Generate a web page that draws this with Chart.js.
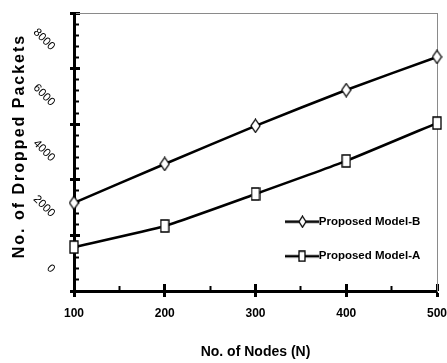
<!DOCTYPE html>
<html>
<head>
<meta charset="utf-8">
<script src="https://cdn.jsdelivr.net/npm/chart.js@4.4.0/dist/chart.umd.min.js"></script>
<style>
  html, body { margin: 0; padding: 0; background: #fff; }
</style>
</head>
<body>
<canvas id="chart" width="447" height="363"></canvas>
<script>
// Values
const nodes = [100, 200, 300, 400, 500];
const modelB = [3170, 4570, 5940, 7230, 8420];
const modelA = [1580, 2340, 3490, 4680, 6040];
const yTickLabels = ['0', '2000', '4000', '6000', '8000'];
const seriesNames = ['Proposed Model-B', 'Proposed Model-A'];

const SANS = "'Liberation Sans', Arial, sans-serif";

// Marker images (tall diamond / tall square, white fill)
function makeMarker(shape, w, h) {
    const c = document.createElement('canvas');
    c.width = w; c.height = h;
    const g = c.getContext('2d');
    g.fillStyle = '#fff';
    g.strokeStyle = '#000';
    g.lineWidth = 1.3;
    g.beginPath();
    if (shape === 'diamond') {
        g.moveTo(w / 2, 1); g.lineTo(w - 1, h / 2); g.lineTo(w / 2, h - 1); g.lineTo(1, h / 2);
        g.closePath();
    } else {
        g.rect(1, 1, w - 2, h - 2);
    }
    g.fill();
    g.stroke();
    return c;
}

// Legend symbol: line with the marker in the middle
function makeLegendIcon(marker, w) {
    const c = document.createElement('canvas');
    c.width = w; c.height = marker.height;
    const g = c.getContext('2d');
    g.strokeStyle = '#000';
    g.lineWidth = 2.5;
    g.beginPath();
    g.moveTo(0, c.height / 2);
    g.lineTo(w, c.height / 2);
    g.stroke();
    g.drawImage(marker, Math.round((w - marker.width) / 2), 0);
    return c;
}

const diamond = makeMarker('diamond', 11, 15);
const square = makeMarker('square', 10, 14);
const legendIcons = [
    makeLegendIcon(makeMarker('diamond', 9, 13), 34),
    makeLegendIcon(makeMarker('square', 8, 12), 34)
];

// keep the plot area fixed: no extra label padding from any axis
function noPad(s) {
    s.paddingTop = 0;
    s.paddingBottom = 0;
    s.paddingLeft = 0;
    s.paddingRight = 0;
}

// place the legend inside the plot, lower right
const legendPlacer = {
    id: 'legendPlacer',
    afterLayout(chart) {
        const lg = chart.legend;
        const w = lg.width;
        lg.left = 268;
        lg.top = 193;
        lg.right = lg.left + w;
        lg.bottom = lg.top + 130;
    }
};

const hiddenTicks = { display: false };

new Chart(document.getElementById('chart'), {
    type: 'line',
    data: {
        datasets: [
            {
                label: seriesNames[0],
                data: nodes.map((n, i) => ({ x: n, y: modelB[i] })),
                borderColor: '#000',
                borderWidth: 2.6,
                pointStyle: diamond,
                pointRadius: 6,
                tension: 0.15,
                clip: false,
                xAxisID: 'x',
                yAxisID: 'y'
            },
            {
                label: seriesNames[1],
                data: nodes.map((n, i) => ({ x: n, y: modelA[i] })),
                borderColor: '#000',
                borderWidth: 2.6,
                pointStyle: square,
                pointRadius: 6,
                tension: 0.15,
                clip: false,
                xAxisID: 'x',
                yAxisID: 'y'
            }
        ]
    },
    options: {
        responsive: false,
        animation: false,
        devicePixelRatio: 1,
        layout: { padding: { left: 0, top: 13, right: 10, bottom: 0 } },
        plugins: {
            tooltip: { enabled: false },
            legend: {
                position: 'chartArea',
                align: 'start',
                labels: {
                    usePointStyle: true,
                    pointStyleWidth: 22,
                    padding: 23,
                    color: '#000',
                    font: { family: SANS, size: 11.5, weight: 'bold' },
                    generateLabels: chart => chart.data.datasets.map((ds, i) => ({
                        text: ds.label,
                        pointStyle: legendIcons[i],
                        fillStyle: '#fff',
                        strokeStyle: '#000',
                        lineWidth: 0,
                        hidden: false,
                        datasetIndex: i
                    }))
                }
            }
        },
        scales: {
            x: {
                type: 'linear',
                position: 'bottom',
                min: 100,
                max: 500,
                ticks: {
                    stepSize: 100,
                    padding: 9,
                    maxRotation: 0,
                    color: '#000',
                    font: { family: SANS, size: 12, weight: 'bold' }
                },
                grid: { drawOnChartArea: false, tickLength: 6, tickWidth: 3, tickColor: '#000' },
                border: { color: '#000', width: 3 },
                title: {
                    display: true,
                    text: 'No. of Nodes (N)',
                    color: '#000',
                    font: { family: SANS, size: 14, weight: 'bold' },
                    padding: { top: 0, bottom: 2 }
                },
                afterFit: s => { s.height = 72; noPad(s); }
            },
            xMajorIn: {
                type: 'linear',
                min: 100, max: 500,
                position: { y: 250 },
                ticks: { display: false, stepSize: 100 },
                grid: { drawOnChartArea: false, tickLength: 7, tickWidth: 3, tickColor: '#000' },
                border: { display: false },
                afterFit: noPad
            },
            xMinorIn: {
                type: 'linear',
                min: 100, max: 500,
                position: { y: 180 },
                ticks: { display: false, stepSize: 50 },
                grid: {
                    drawOnChartArea: false, tickLength: 5, tickWidth: 2,
                    tickColor: c => (c.tick && c.tick.value % 100 === 0) ? 'rgba(0,0,0,0)' : '#000'
                },
                border: { display: false },
                afterFit: noPad
            },
            xTop: {
                type: 'linear',
                position: 'top',
                min: 100, max: 500,
                ticks: hiddenTicks,
                grid: { drawOnChartArea: false, drawTicks: false },
                border: { color: '#8a8a8a', width: 1 },
                afterFit: s => { s.height = 0; noPad(s); }
            },
            y: {
                type: 'linear',
                position: 'left',
                min: 0,
                max: 10000,
                ticks: {
                    stepSize: 2000,
                    minRotation: -45,
                    maxRotation: -45,
                    labelOffset: -20,
                    padding: 17,
                    color: '#000',
                    font: { family: SANS, size: 11.5 },
                    callback: (v, i) => yTickLabels[i] ?? ''
                },
                grid: { drawOnChartArea: false, tickLength: 4, tickWidth: 3, tickColor: '#000' },
                border: { color: '#000', width: 3 },
                title: {
                    display: true,
                    text: 'No. of Dropped Packets',
                    color: '#000',
                    font: { family: SANS, size: 16, weight: 'bold' },
                    padding: { top: 10, bottom: 0 }
                },
                afterFit: s => { s.width = 74; noPad(s); },
                afterUpdate: s => {
                    // spaced-out lettering of the axis title, sitting a little above centre
                    if (s._spaced) return;
                    const orig = s.drawTitle.bind(s);
                    s.drawTitle = function () {
                        const ctx = s.ctx;
                        ctx.save();
                        ctx.letterSpacing = '2px';
                        ctx.translate(0, -6);
                        orig();
                        ctx.restore();
                    };
                    s._spaced = true;
                }
            },
            yMajorIn: {
                type: 'linear',
                min: 0, max: 10000,
                position: { x: 106.5 },
                ticks: { display: false, stepSize: 2000 },
                grid: { drawOnChartArea: false, tickLength: 6, tickWidth: 3, tickColor: '#000' },
                border: { display: false },
                afterFit: noPad
            },
            yMinorIn: {
                type: 'linear',
                min: 0, max: 10000,
                position: { x: 105.5 },
                ticks: { display: false, stepSize: 400 },
                grid: {
                    drawOnChartArea: false, tickLength: 5, tickWidth: 2,
                    tickColor: c => (c.tick && c.tick.value % 2000 === 0) ? 'rgba(0,0,0,0)' : '#000'
                },
                border: { display: false },
                afterFit: noPad
            },
            yRight: {
                type: 'linear',
                position: 'right',
                min: 0, max: 10000,
                ticks: hiddenTicks,
                grid: { drawOnChartArea: false, drawTicks: false },
                border: { color: '#8a8a8a', width: 1 },
                afterFit: s => { s.width = 0; noPad(s); }
            }
        }
    },
    plugins: [legendPlacer]
});
</script>
</body>
</html>
